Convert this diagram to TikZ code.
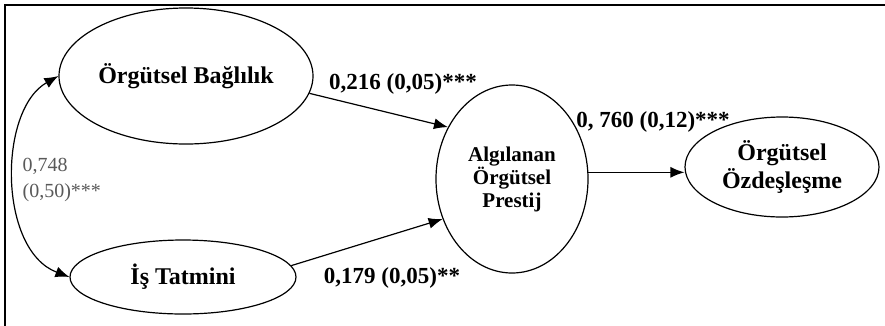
\documentclass[tikz,border=0pt]{standalone}
\usepackage{fontspec}
\setmainfont{Liberation Serif}
\usetikzlibrary{arrows.meta,positioning,shapes.geometric}

\begin{document}
\begin{tikzpicture}[x=1pt, y=-1pt, line width=1.2pt,
	latent/.style={ellipse,draw,inner sep=0pt,align=center,font=\fontsize{24}{28}\selectfont\bfseries},
	coef/.style={inner sep=0pt,font=\fontsize{23}{26}\selectfont\bfseries},
	effect/.style={-{Latex[length=14pt,width=11pt]}}]
	% frame
	\clip (0,0) rectangle (885,325);
	\draw[line width=2pt] (4.5,4.5) rectangle (900,340);
	% latent variables
	\node[latent, minimum width=254, minimum height=136] (ob) at (186,76) {Örgütsel Bağlılık};
	\node[latent, minimum width=226, minimum height=74] (it) at (183,277) {İş Tatmini};
	\node[latent, minimum width=152, minimum height=188, font=\fontsize{21}{23}\selectfont\bfseries] (aop) at (512,179) {Algılanan\\Örgütsel\\Prestij};
	\node[latent, minimum width=194, minimum height=100] (oo) at (782,167) {Örgütsel\\Özdeşleşme};
	% paths
	\draw[effect] (ob.-8) -- (aop.141);
	\draw[effect] (it.6) -- (aop.210);
	\draw[effect] (aop.5) -- (aop.5 -| oo.west);
	% covariance
	\draw[{Latex[length=14pt,width=11pt]}-{Latex[length=14pt,width=11pt]}] (ob.west) .. controls (-2,110) and (-2,250) .. (it.west);
	% estimates
	\node[coef] (b1) at (403,84) {0,216 (0,05)***};
	\node[coef] (b2) at (392,278) {0,179 (0,05)**};
	\node[coef] (b3) at (653,122) {0, 760 (0,12)***};
	\node[inner sep=0pt, anchor=west, align=left, text=black!65, font=\fontsize{20}{26}\selectfont] (r) at (22,180) {0,748\\(0,50)***};
\end{tikzpicture}
\end{document}
